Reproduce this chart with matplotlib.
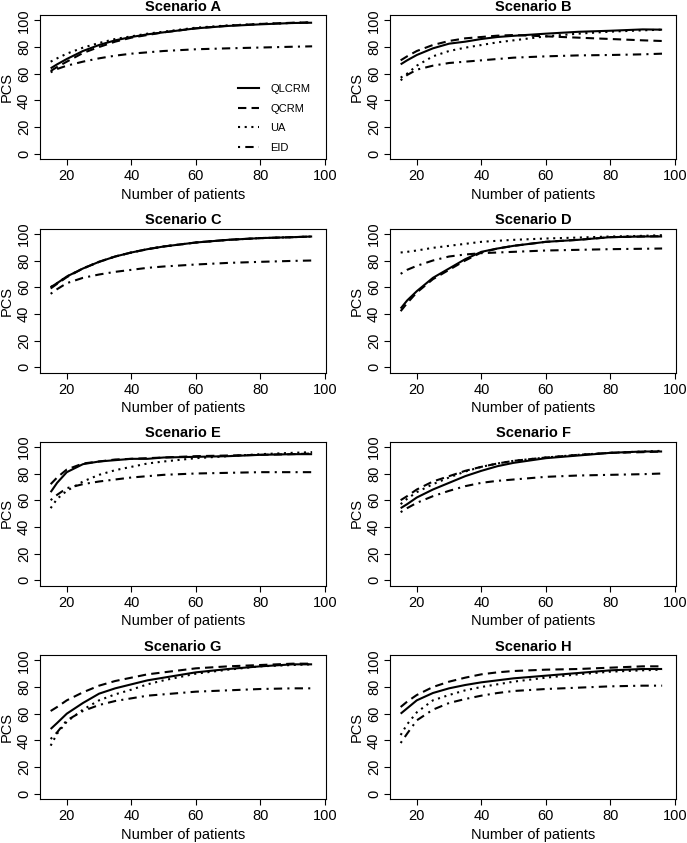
import matplotlib
matplotlib.use("Agg")
import matplotlib.pyplot as plt
from matplotlib.lines import Line2D

plt.rcParams['font.family'] = ['Liberation Sans', 'DejaVu Sans']

x = [15, 17, 20, 25, 30, 35, 40, 45, 50, 60, 70, 80, 90, 96]

methods = ["QLCRM", "QCRM", "UA", "EID"]

A_QLCRM = [64, 67, 71, 77, 81.5, 85, 87.5, 89.5, 91, 94, 95.8, 97, 98, 98.2]
A_QCRM = [62, 65, 69, 75.5, 80, 84, 87, 89, 91, 94, 96, 97.3, 98.2, 98.5]
A_UA = [69, 71.5, 75, 79.5, 83, 86, 88, 90, 91.5, 94.5, 96.2, 97.3, 98, 98.5]
A_EID = [61, 63.5, 66, 69, 71.5, 73.5, 75, 76, 77, 78.3, 79, 79.6, 80.2, 80.5]

B_QLCRM = [67, 70, 74, 79, 82.5, 84, 86, 87.5, 88.4, 90, 91.4, 92.2, 93.2, 93]
B_QCRM = [70, 73, 77, 81.5, 84.5, 86.5, 87.5, 88.5, 89, 88, 87, 86, 85, 84.5]
B_UA = [57, 60, 66, 73, 77, 79.5, 81.5, 83.5, 85, 88, 90, 91.5, 92.5, 93]
B_EID = [55, 59, 63, 66, 68, 69, 70, 71, 72, 73, 73.7, 74, 74.5, 75]

C_QLCRM = [60, 63, 68, 74, 79, 83, 86, 88.5, 90.5, 93.5, 95.5, 96.8, 97.5, 98]
C_QCRM = [59, 62.5, 67.5, 74, 79, 83, 86, 88.5, 90.5, 93.5, 95.5, 96.8, 97.5, 98]
C_UA = [60, 63, 68, 74, 79, 83, 86, 88.5, 90.5, 93.5, 95.5, 96.8, 97.5, 98]
C_EID = [55, 58.5, 63, 67, 69.5, 71.5, 73, 74.5, 75.5, 77, 78.2, 79, 79.7, 80]

D_QLCRM = [44, 50, 57, 67, 74, 81, 86.5, 89, 91, 94, 95.5, 97.5, 98, 98]
D_QCRM = [42, 48, 56, 66, 73, 80, 86, 89, 91, 94, 95.5, 97.5, 98, 98.3]
D_UA = [86, 86.5, 87.5, 89.5, 91, 92.5, 94, 94.8, 95.5, 96.5, 97.2, 98, 98.5, 99]
D_EID = [70, 73, 76, 80, 83, 84.5, 85.5, 86, 86.5, 87.5, 88, 88.5, 88.8, 89]

E_QLCRM = [66, 73, 81, 87, 89, 90, 91, 91, 92, 92.5, 93, 94, 94.5, 94.5]
E_QCRM = [72, 77, 83, 87.5, 89, 90.5, 91, 91.5, 92, 93, 93.5, 94, 94.5, 95]
E_UA = [54, 61, 67, 74, 79, 82.5, 85, 87.5, 89, 91.5, 93, 94.5, 95.5, 96]
E_EID = [60, 64, 69, 72, 74, 75.5, 77, 78, 79, 80, 80.5, 81, 81, 81]

F_QLCRM = [54, 57, 62, 68, 73, 78, 82, 85.5, 88, 91.5, 93.5, 95.5, 96.5, 96.5]
F_QCRM = [60, 63, 68, 74, 78, 82, 85, 87.5, 89.5, 92, 94, 95.5, 96, 96.5]
F_UA = [57, 61, 66, 72, 77, 81.5, 85, 87.5, 89.5, 92, 94, 95.5, 96.5, 97]
F_EID = [51, 54, 58, 63, 67, 70.5, 73, 74.5, 75.5, 77.5, 78.5, 79, 79.5, 80]

G_QLCRM = [48.5, 53, 60, 68, 75, 79, 82, 85, 87, 91, 93.5, 95.5, 97, 97]
G_QCRM = [62, 65, 70, 76, 81, 84.5, 87, 89.5, 91, 94, 95.5, 96.5, 97.5, 97.5]
G_UA = [36, 45, 54, 63, 70, 74.5, 78, 82, 85, 90, 93, 95.5, 96.5, 97]
G_EID = [41, 46, 55, 62, 66.5, 69.5, 71.5, 73.5, 74.5, 76.5, 77.5, 78.5, 79, 79]

H_QLCRM = [60, 64, 70, 75.5, 79, 81.5, 83.5, 85, 86.5, 88.5, 90.5, 92.5, 93.5, 93.5]
H_QCRM = [65, 69, 74, 80, 84, 87, 89.5, 91, 92, 93, 93.5, 94.5, 95.5, 95.5]
H_UA = [44, 52, 61, 70, 74, 77.5, 80, 82, 84, 87, 89.5, 91.5, 92.5, 93]
H_EID = [38, 45, 55, 63, 68, 71, 73.5, 75.5, 77, 78.5, 79.5, 80.5, 81, 81]

scenarios = ["A", "B", "C", "D", "E", "F", "G", "H"]
series = {
    "A": [A_QLCRM, A_QCRM, A_UA, A_EID],
    "B": [B_QLCRM, B_QCRM, B_UA, B_EID],
    "C": [C_QLCRM, C_QCRM, C_UA, C_EID],
    "D": [D_QLCRM, D_QCRM, D_UA, D_EID],
    "E": [E_QLCRM, E_QCRM, E_UA, E_EID],
    "F": [F_QLCRM, F_QCRM, F_UA, F_EID],
    "G": [G_QLCRM, G_QCRM, G_UA, G_EID],
    "H": [H_QLCRM, H_QCRM, H_UA, H_EID],
}
xticks = [20, 40, 60, 80, 100]
yticks = [0, 20, 40, 60, 80, 100]

styles = ['-', (0, (4, 2.5)), (0, (1, 2.2)), (0, (1, 2.5, 4, 2.5))]
lw = 1.5

fig = plt.figure(figsize=(6.87, 8.43), dpi=100)
W, H = 687, 843
lefts = [40, 390]
width = 286
tops = [15, 228.5, 441.5, 655]
height = 144

fs = 10.5
for i, sc in enumerate(scenarios):
    r, c = divmod(i, 2)
    ax = fig.add_axes([lefts[c] / W, 1 - (tops[r] + height) / H, width / W, height / H])
    for s, ls in zip(series[sc], styles):
        ax.plot(x, s, color='black', linestyle=ls, linewidth=lw,
                solid_capstyle='butt', dash_capstyle='butt')
    ax.set_xlim(11.7, 100.3)
    ax.set_ylim(-4, 104)
    ax.set_xticks(xticks)
    ax.set_yticks(yticks)
    ax.set_yticklabels([str(v) for v in yticks], rotation=90, va='center')
    ax.tick_params(direction='out', length=4, width=0.8, labelsize=fs)
    ax.tick_params(axis='y', pad=2.5)
    ax.tick_params(axis='x', pad=3.5)
    for sp in ax.spines.values():
        sp.set_linewidth(0.8)
    ax.set_title("Scenario " + sc, fontsize=fs, fontweight='bold', pad=3)
    ax.set_xlabel("Number of patients", fontsize=fs, labelpad=3)
    ax.set_ylabel("PCS", fontsize=fs, labelpad=2)
    if sc == "A":
        handles = [Line2D([0], [0], color='black', linestyle=ls, linewidth=lw) for ls in styles]
        ax.legend(handles, methods, loc='lower right', frameon=False, fontsize=8,
                  handlelength=1.9, handletextpad=1.0, labelspacing=0.88,
                  borderaxespad=0, bbox_to_anchor=(0.96, 0.01))

fig.savefig("out.png", dpi=100)
